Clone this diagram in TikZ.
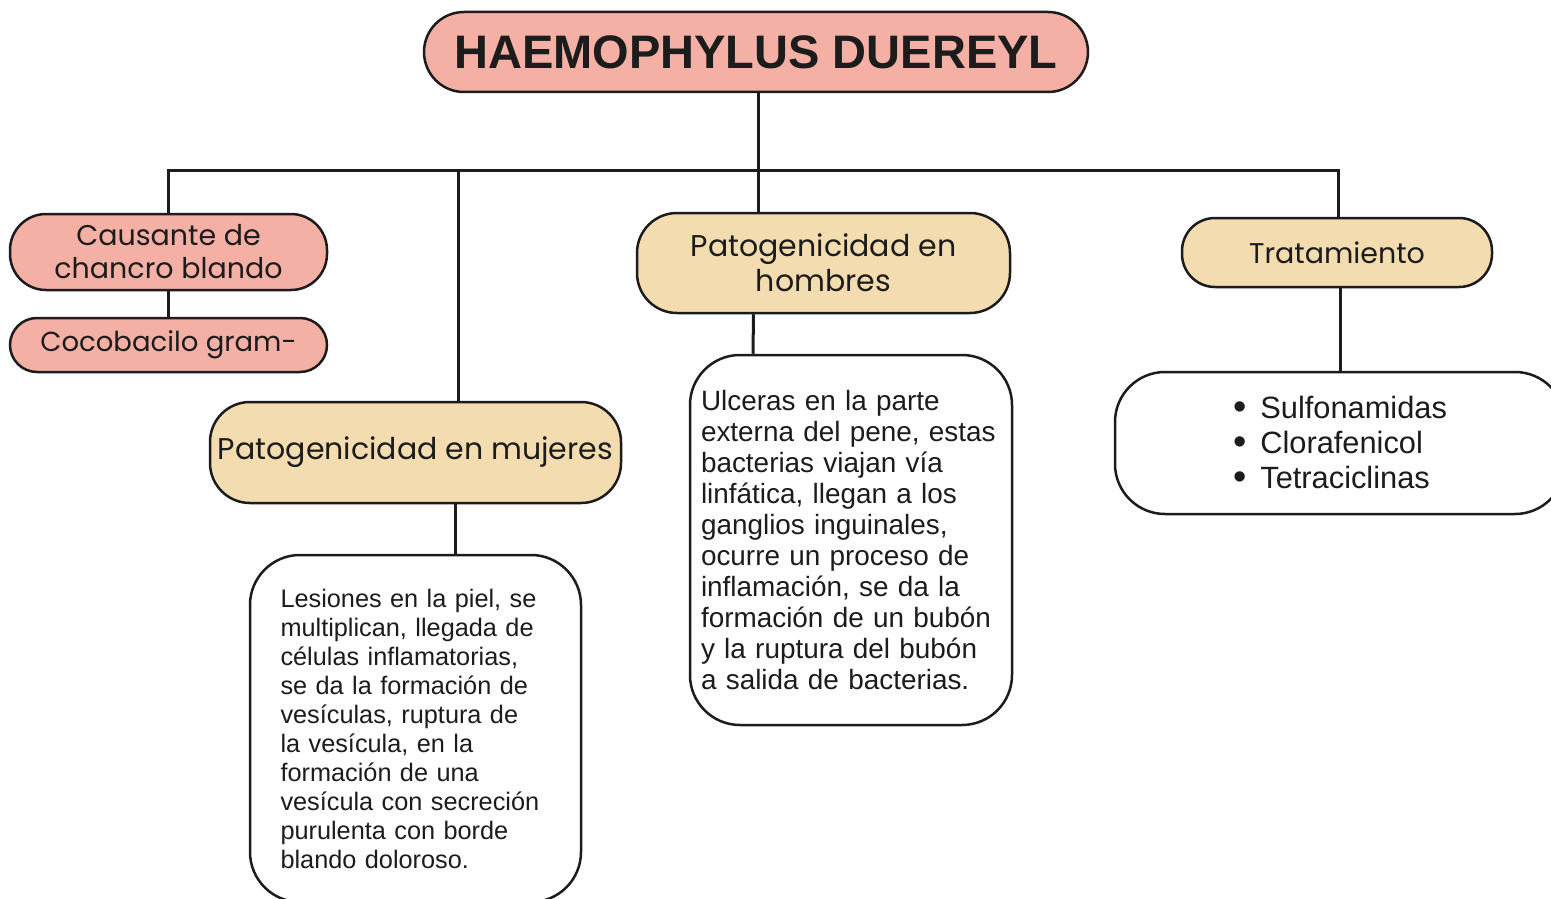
\documentclass[tikz,border=0pt]{standalone}
\usepackage{fontspec}
\setmainfont{Liberation Sans}
\newfontfamily\labelfont{Poppins}
\definecolor{salmon}{HTML}{F4B0A5}
\definecolor{sand}{HTML}{F3DCB0}
\definecolor{ink}{HTML}{1C1C1C}
\tikzset{
  base box/.style={
    draw=ink, line width=2.5pt, text=ink,
    align=center, inner sep=0pt, anchor=center
  },
  pink box/.style={base box, fill=salmon, rounded corners=#1},
  pink box/.default=36pt,
  sand box/.style={base box, fill=sand, rounded corners=#1},
  sand box/.default=40pt,
  note box/.style={base box, fill=white, rounded corners=50pt, align=left},
  link/.style={draw=ink, line width=3pt}
}
\newcommand{\dotitem}{{\fontsize{38}{35}\selectfont\raisebox{-1pt}{\textbullet}}\hspace{14pt}}
\begin{document}
\begin{tikzpicture}[x=1pt, y=-1pt]
\useasboundingbox[fill=white] (0,0) rectangle (1551,899);
% title and first level
\node[pink box=40pt, minimum width=664pt, minimum height=80pt,
  font=\fontsize{47}{52}\selectfont\bfseries] (title) at (756,52) {HAEMOPHYLUS DUEREYL};
\node[pink box, minimum width=317pt, minimum height=76pt,
  font=\labelfont\fontsize{28.5}{33}\selectfont] (causante) at (168.5,252) {Causante de\\chancro blando};
\node[pink box=27pt, minimum width=317pt, minimum height=54pt,
  font=\labelfont\fontsize{27.5}{33}\selectfont] (cocobacilo) at (168.5,345) {Cocobacilo gram-};
\node[sand box, minimum width=411pt, minimum height=101pt,
  font=\labelfont\fontsize{30}{35}\selectfont] (mujeres) at (415.5,452.5) {Patogenicidad en mujeres};
\node[sand box, minimum width=373pt, minimum height=100pt,
  font=\labelfont\fontsize{30}{35}\selectfont] (hombres) at (823.5,263) {Patogenicidad en\\hombres};
\node[sand box=33pt, minimum width=310pt, minimum height=69pt,
  font=\labelfont\fontsize{28.5}{35}\selectfont] (tratamiento) at (1337,252.5) {Tratamiento};
% notes
\node[note box, minimum width=331pt, minimum height=347pt, text width=270pt,
  font=\fontsize{25.3}{29}\selectfont] (mujerestxt) at (415.5,728.5)
  {Lesiones en la piel, se\\multiplican, llegada de\\células inflamatorias,\\se da la formación de\\vesículas, ruptura de\\la vesícula, en la\\formación de una\\vesícula con secreción\\purulenta con borde\\blando doloroso.};
\node[note box, minimum width=322pt, minimum height=370pt, text width=300pt,
  font=\fontsize{27.9}{31}\selectfont] (hombrestxt) at (851,540)
  {Ulceras en la parte\\externa del pene, estas\\bacterias viajan vía\\linfática, llegan a los\\ganglios inguinales,\\ocurre un proceso de\\inflamación, se da la\\formación de un bubón\\y la ruptura del bubón\\a salida de bacterias.};
\node[note box, minimum width=450pt, minimum height=142pt,
  font=\fontsize{30.8}{35}\selectfont] (tratamientotxt) at (1340,443)
  {\dotitem Sulfonamidas\\\dotitem Clorafenicol\\\dotitem Tetraciclinas};
% connectors
\coordinate (bus) at (458,170);
\draw[link] (title.south -| 758,0) -- (hombres.north -| 758,0);
\draw[link] (causante.north) |- (bus) -| ([xshift=1pt]tratamiento.north);
\draw[link] (bus) -- (bus |- mujeres.north);
\draw[link] (causante.south) -- (cocobacilo.north);
\draw[link] ([xshift=40pt]mujeres.south) -- ([xshift=40pt]mujerestxt.north);
\draw[link] ([xshift=-70pt]hombres.south) -- (hombrestxt.north -| 753,0);
\draw[link] ([xshift=3pt]tratamiento.south) -- (tratamientotxt.north);
\end{tikzpicture}
\end{document}
